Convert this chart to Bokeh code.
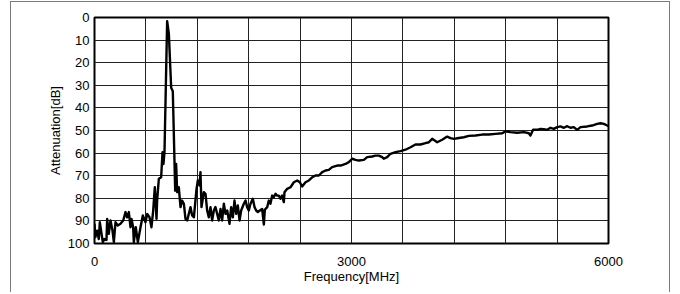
from bokeh.plotting import figure
from bokeh.models import Range1d, FixedTicker
from bokeh.embed import file_html
from bokeh.resources import INLINE

# Data (frequency in MHz, attenuation in dB)
freq_mhz = [0, 10, 31, 50, 62, 82, 97, 117, 140, 148, 167, 187, 210, 226, 245, 272, 303, 335,
            362, 381, 401, 420, 432, 451, 459, 482, 506, 537, 564, 595, 615, 642, 665, 685,
            704, 724, 731, 751, 778, 794, 805, 817, 848, 868, 895, 914, 942, 953, 965, 984,
            1004, 1023, 1043, 1062, 1082, 1101, 1121, 1140, 1160, 1191, 1206, 1226, 1237,
            1249, 1276, 1296, 1315, 1334, 1354, 1373, 1393, 1412, 1432, 1451, 1471, 1490,
            1510, 1529, 1549, 1576, 1595, 1615, 1634, 1654, 1673, 1693, 1712, 1743, 1763,
            1782, 1801, 1821, 1848, 1868, 1887, 1907, 1930, 1957, 1977, 1988, 2016, 2035,
            2054, 2074, 2093, 2113, 2132, 2152, 2171, 2190, 2210, 2218, 2249, 2288, 2327,
            2366, 2397, 2424, 2463, 2502, 2541, 2580, 2619, 2658, 2697, 2735, 2774, 2833,
            2872, 2930, 2969, 3008, 3047, 3086, 3144, 3183, 3241, 3280, 3319, 3358, 3377,
            3416, 3455, 3514, 3572, 3630, 3689, 3747, 3805, 3864, 3903, 3942, 4000, 4058,
            4117, 4156, 4195, 4253, 4311, 4370, 4447, 4525, 4603, 4681, 4759, 4798, 4856,
            4934, 5012, 5070, 5089, 5121, 5167, 5206, 5245, 5284, 5323, 5362, 5401, 5440,
            5479, 5518, 5556, 5595, 5634, 5673, 5751, 5809, 5868, 5907, 5946, 5985, 6000]
atten_db = [91.3, 97.2, 94.3, 98.0, 90.6, 95.7, 99.4, 98.0, 98.4, 89.1, 95.7, 89.8, 94.3, 99.4,
            90.6, 92.0, 91.3, 89.8, 86.1, 88.4, 86.1, 92.8, 89.1, 92.8, 99.4, 92.8, 99.4, 92.8,
            87.6, 90.6, 86.9, 88.4, 92.8, 85.4, 75.1, 89.1, 81.0, 71.4, 70.7, 59.6, 64.8, 59.6,
            1.6, 7.2, 31.1, 32.6, 76.6, 64.8, 77.3, 75.1, 83.9, 81.0, 82.4, 89.1, 89.8, 86.9,
            83.9, 87.6, 88.4, 75.8, 72.1, 74.3, 68.4, 83.9, 77.3, 78.0, 85.4, 88.4, 83.9, 89.8,
            85.4, 83.9, 86.9, 89.8, 84.7, 89.8, 82.4, 86.9, 85.4, 91.3, 83.9, 88.4, 81.0, 86.9,
            83.2, 89.8, 85.4, 82.4, 81.0, 83.9, 85.4, 82.4, 80.2, 83.9, 85.4, 86.1, 85.4, 84.7,
            91.6, 85.1, 83.9, 81.0, 82.4, 78.8, 79.5, 78.0, 78.8, 78.8, 80.2, 78.8, 81.7, 77.3,
            75.8, 75.1, 72.9, 72.1, 72.9, 74.8, 72.9, 72.1, 70.7, 69.9, 69.9, 68.4, 67.7, 67.4,
            66.2, 65.5, 65.5, 64.8, 64.0, 62.5, 63.0, 63.3, 63.0, 61.8, 61.5, 61.1, 61.1, 61.8,
            62.5, 61.8, 60.3, 59.6, 59.1, 58.5, 57.4, 56.2, 56.2, 55.6, 55.2, 53.7, 55.2, 54.1,
            52.7, 53.4, 53.7, 53.3, 53.0, 52.4, 52.2, 51.8, 51.8, 51.5, 51.2, 50.4, 50.7, 51.0,
            50.7, 51.2, 52.2, 49.6, 49.7, 49.3, 49.4, 49.7, 48.8, 49.3, 48.5, 48.2, 48.8, 48.1,
            48.8, 48.5, 49.7, 48.5, 48.2, 47.8, 47.1, 46.8, 47.1, 47.8, 48.0]

x_tick_labels = [0, 3000, 6000]
x_grid_ticks = [0, 600, 1200, 1800, 2400, 3000, 3600, 4200, 4800, 5400, 6000]
y_ticks = [0, 10, 20, 30, 40, 50, 60, 70, 80, 90, 100]

FONT = "Liberation Sans"

p = figure(width=660, height=291, output_backend="svg", toolbar_location=None,
           x_range=Range1d(0, 6000), y_range=Range1d(100, 0),
           min_border_left=83, min_border_right=63, min_border_top=15, min_border_bottom=50,
           background_fill_color="white", border_fill_color="white",
           styles={"border-left": "1px solid #7a7a7a", "border-top": "1px solid #7a7a7a",
                   "border-right": "1px solid #7a7a7a", "margin-top": "1px",
                   "margin-left": "10px"})

p.line(freq_mhz, atten_db, line_color="black", line_width=2.4, line_join="round")

p.outline_line_color = "black"
p.outline_line_width = 2

p.xaxis.ticker = FixedTicker(ticks=x_tick_labels)
p.yaxis.ticker = FixedTicker(ticks=y_ticks)
p.xgrid.ticker = FixedTicker(ticks=x_grid_ticks)
p.ygrid.ticker = FixedTicker(ticks=y_ticks)
for g in (p.xgrid, p.ygrid):
    g.grid_line_color = "#222222"
    g.grid_line_width = 1
    g.grid_line_alpha = 1

for ax in (p.xaxis, p.yaxis):
    ax.axis_line_color = None
    ax.major_tick_line_color = None
    ax.minor_tick_line_color = None
    ax.major_tick_in = 0
    ax.major_tick_out = 0
    ax.major_label_text_font = FONT
    ax.major_label_text_font_size = "13px"
    ax.major_label_text_color = "black"
    ax.axis_label_text_font = FONT
    ax.axis_label_text_font_size = "13px"
    ax.axis_label_text_font_style = "normal"
    ax.axis_label_text_color = "black"

p.xaxis.axis_label = "Frequency[MHz]"
p.yaxis.axis_label = "Attenuation[dB]"
p.xaxis.major_label_standoff = 13
p.xaxis.axis_label_standoff = 0
p.yaxis.major_label_standoff = 5
p.yaxis.axis_label_standoff = 2

open("out.html", "w").write(file_html(p, INLINE))
